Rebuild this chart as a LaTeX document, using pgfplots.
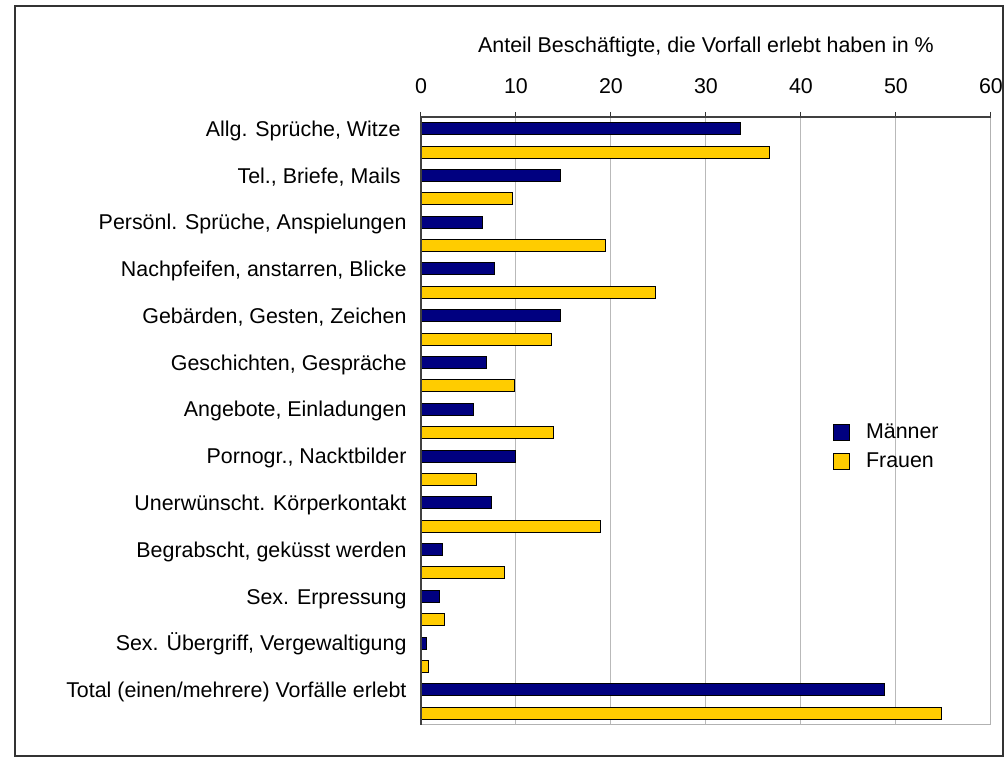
\documentclass[border=0pt]{standalone}
\usepackage{fontspec}
\setmainfont{Liberation Sans}
\usepackage{pgfplots}
\usepackage{pgfplotstable}
\pgfplotsset{compat=1.18}
\definecolor{maenner}{RGB}{0,0,128}
\definecolor{frauen}{RGB}{255,204,0}
\pgfplotstableread{
y  M     F
12 33.6  36.7
11 14.7  9.6
10 6.5   19.4
9  7.7   24.7
8  14.7  13.75
7  6.9   9.8
6  5.5   13.9
5  9.9   5.8
4  7.4   18.9
3  2.3   8.75
2  1.9   2.5
1  0.56  0.8
0  48.75 54.8
}\datatable
\begin{document}
\fontsize{10.7}{12.8}\selectfont
\begin{tikzpicture}
\path[use as bounding box] (0,0) rectangle (504pt,382.5pt);
\draw[line width=0.8pt, black!80] (7.5pt,4.5pt) rectangle (501.5pt,379.5pt);
\begin{axis}[
  at={(210.5pt,20pt)}, anchor=south west,
  scale only axis, width=285pt, height=304pt,
  xmin=0, xmax=60, ymin=-0.5, ymax=12.5,
  xtick={0,10,...,60},
  xtick pos=upper, xticklabel pos=upper,
  tick align=outside, major tick length=2.5pt,
  x tick style={black!80, line width=0.5pt},
  ytick={0,...,12},
  y tick style={draw=none},
  yticklabels={{Total (einen/mehrere) Vorfälle erlebt},{Sex. Übergriff, Vergewaltigung},{Sex. Erpressung},{Begrabscht, geküsst werden},{Unerwünscht. Körperkontakt},{Pornogr., Nacktbilder},{Angebote, Einladungen},{Geschichten, Gespräche},{Gebärden, Gesten, Zeichen},{Nachpfeifen, anstarren, Blicke},{Persönl. Sprüche, Anspielungen},{Tel., Briefe, Mails\kern0.278em},{Allg. Sprüche, Witze\kern0.278em}},
  tick label style={font=\fontsize{10.7}{12.8}\selectfont},
  /pgf/number format/assume math mode=true,
  xticklabel style={anchor=base, yshift=9pt},
  yticklabel style={anchor=base east, xshift=-1pt, yshift=2pt},
  xmajorgrids, major grid style={gray!55, line width=0.5pt},
  axis line style={draw=none},
  legend style={draw=none, fill=none, at={(rel axis cs:0.7112,0.5099)}, anchor=north west, font=\fontsize{10.7}{12.8}\selectfont, row sep=1.6pt},
  legend cell align=left,
  clip=false,
]
\addplot[xbar, bar width=6pt, bar shift=5.85pt, fill=maenner, draw=black, line width=0.5pt,
  legend image code/.code={\draw[fill=maenner, draw=black, line width=0.4pt] (0pt,-4pt) rectangle (8pt,4pt); \path (14.2pt,0pt);}]
  table[x=M, y=y]{\datatable};
\addlegendentry{Männer}
\addplot[xbar, bar width=6pt, bar shift=-5.85pt, fill=frauen, draw=black, line width=0.5pt,
  legend image code/.code={\draw[fill=frauen, draw=black, line width=0.4pt] (0pt,-4pt) rectangle (8pt,4pt); \path (14.2pt,0pt);}]
  table[x=F, y=y]{\datatable};
\addlegendentry{Frauen}
\draw[gray!60, line width=0.5pt] (rel axis cs:1,1) -- (rel axis cs:1,0) -- (rel axis cs:0,0);
\draw[black!75, line width=0.8pt] (rel axis cs:0,0) -- (rel axis cs:0,1) -- (rel axis cs:1,1);
\node[anchor=base, font=\fontsize{10.7}{12.8}\selectfont] at (rel axis cs:0.5,1) [yshift=32pt] {Anteil Beschäftigte, die Vorfall erlebt haben in \%};
\end{axis}
\end{tikzpicture}
\end{document}
